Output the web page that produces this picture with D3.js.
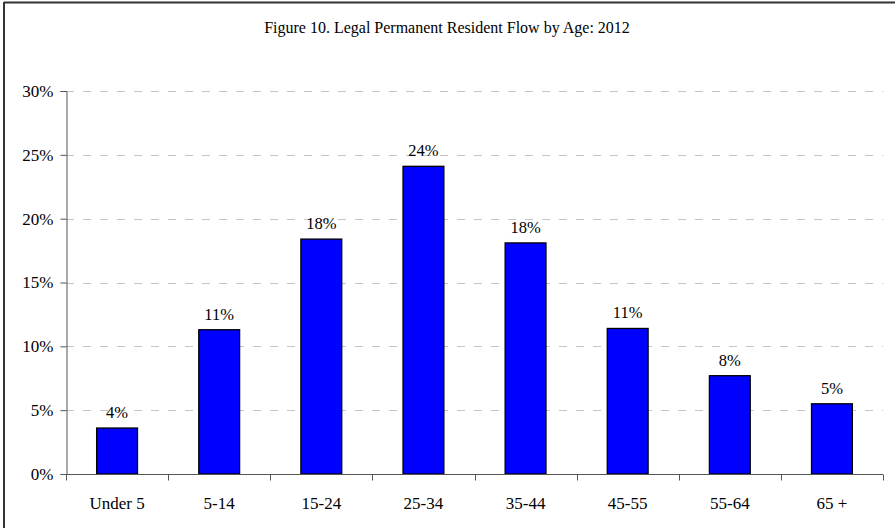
<!DOCTYPE html>
<html>
<head>
<meta charset="utf-8">
<script src="https://cdn.jsdelivr.net/npm/d3@7"></script>
<style>
  html, body { margin: 0; padding: 0; background: #fff; }
  svg { display: block; }
  text { font-family: "Liberation Serif", "Times New Roman", serif; fill: #000; }
</style>
</head>
<body>
<svg id="chart" width="895" height="528"></svg>
<script>
// Share of LPR flow by age group, 2012 (percent)
const categories = ["Under 5", "5-14", "15-24", "25-34", "35-44", "45-55", "55-64", "65 +"];
const values = [3.6, 11.3, 18.4, 24.1, 18.1, 11.4, 7.7, 5.5];
const valueLabels = ["4%", "11%", "18%", "24%", "18%", "11%", "8%", "5%"];
const yTicks = [0, 5, 10, 15, 20, 25, 30];
const title = "Figure 10. Legal Permanent Resident Flow by Age: 2012";

const svg = d3.select("#chart");
const W = 895, H = 528;
const plot = { left: 66, right: 883, top: 91, bottom: 474 };

// frame: top and left edges
svg.append("line").attr("x1", 4).attr("x2", W).attr("y1", 2.5).attr("y2", 2.5)
  .attr("stroke", "#333").attr("stroke-width", 2);
svg.append("line").attr("x1", 4).attr("x2", 4).attr("y1", 2).attr("y2", H)
  .attr("stroke", "#333").attr("stroke-width", 2);

svg.append("text")
  .attr("x", 447).attr("y", 33)
  .attr("text-anchor", "middle")
  .attr("font-size", 16)
  .text(title);

const x = d3.scaleBand()
  .domain(categories)
  .range([plot.left, plot.right])
  .paddingInner(0.6)
  .paddingOuter(0.3);

const y = d3.scaleLinear()
  .domain([0, 30])
  .range([plot.bottom, plot.top]);

// dashed gridlines
svg.append("g")
  .selectAll("line")
  .data(yTicks.filter(d => d > 0))
  .join("line")
  .attr("x1", plot.left).attr("x2", plot.right)
  .attr("y1", d => Math.round(y(d)) + 0.5).attr("y2", d => Math.round(y(d)) + 0.5)
  .attr("stroke", "#c4c4c4")
  .attr("stroke-dasharray", "8,9");

// y axis
const yAxis = d3.axisLeft(y)
  .tickValues(yTicks)
  .tickFormat(d => d + "%")
  .tickSize(6)
  .tickPadding(7);
const gy = svg.append("g")
  .attr("transform", `translate(${plot.left + 0.5},0)`)
  .call(yAxis);
gy.select(".domain").attr("stroke", "#555");
gy.selectAll(".tick line").attr("stroke", "#555");
gy.selectAll(".tick text")
  .attr("font-family", "Liberation Serif, serif")
  .attr("font-size", 17)
  .attr("fill", "#000");

// bars
svg.append("g")
  .selectAll("rect")
  .data(values)
  .join("rect")
  .attr("x", (d, i) => x(categories[i]))
  .attr("y", d => y(d))
  .attr("width", x.bandwidth())
  .attr("height", d => y(0) - y(d))
  .attr("fill", "#0000ff")
  .attr("stroke", "#000")
  .attr("stroke-width", 1.3);

// value labels
svg.append("g")
  .selectAll("text")
  .data(values)
  .join("text")
  .attr("x", (d, i) => x(categories[i]) + x.bandwidth() / 2)
  .attr("y", d => y(d) - 10)
  .attr("text-anchor", "middle")
  .attr("font-size", 16.5)
  .text((d, i) => valueLabels[i]);

// x axis with ticks at category boundaries
const gx = svg.append("g")
  .attr("transform", `translate(0,${plot.bottom + 0.5})`);
gx.append("line")
  .attr("x1", plot.left).attr("x2", plot.right)
  .attr("stroke", "#555");
const step = x.step();
const bounds = d3.range(categories.length + 1).map(i => plot.left + i * step);
gx.selectAll("line.tick")
  .data(bounds)
  .join("line")
  .attr("class", "tick")
  .attr("x1", d => Math.round(d) + 0.5).attr("x2", d => Math.round(d) + 0.5)
  .attr("y1", 0).attr("y2", 6)
  .attr("stroke", "#555");
gx.selectAll("text")
  .data(categories)
  .join("text")
  .attr("x", d => x(d) + x.bandwidth() / 2)
  .attr("y", 34)
  .attr("text-anchor", "middle")
  .attr("font-size", 17)
  .text(d => d);
</script>
</body>
</html>
